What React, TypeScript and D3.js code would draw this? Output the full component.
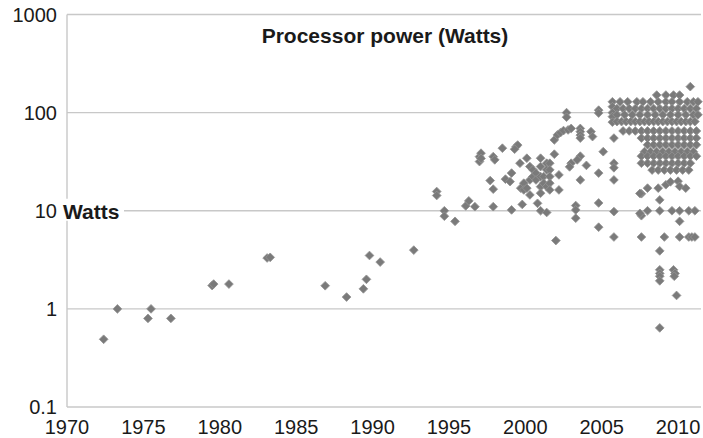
import React from "react";
import * as d3 from "d3";

const W = 703;
const H = 438;

const xTicks = [1970, 1975, 1980, 1985, 1990, 1995, 2000, 2005, 2010];
const yTicks = [0.1, 1, 10, 100, 1000];
const yTickLabels = ["0.1", "1", "10", "100", "1000"];
const title = "Processor power (Watts)";
const axisTitle = "Watts";

// [year, watts]
const early: [number, number][] = [
  [1972.4, 0.49], [1973.3, 1.0], [1975.3, 0.8], [1975.5, 1.0], [1976.8, 0.8],
  [1979.5, 1.73], [1979.6, 1.79], [1980.6, 1.79], [1983.1, 3.3], [1983.3, 3.35],
];

const nineties: [number, number][] = [
  [1986.9, 1.72], [1988.3, 1.32], [1989.4, 1.6], [1989.6, 2.0], [1989.8, 3.5],
  [1990.5, 3.0], [1992.7, 3.97], [1994.2, 15.7], [1994.2, 14.3], [1994.7, 10.0],
  [1994.7, 8.8], [1995.4, 7.8], [1996.1, 11.2], [1996.3, 12.6], [1996.7, 11.0],
  [1997.0, 35.6], [1997.0, 31.7], [1997.1, 38.6], [1997.1, 34.1], [1997.7, 20.3],
  [1997.9, 16.6], [1997.9, 11.0], [1997.9, 35.6], [1998.0, 33], [1998.5, 43.4],
  [1998.7, 21], [1999.0, 19.8], [1999.1, 24.2], [1999.1, 10.2], [1999.4, 45],
  [1999.5, 46.7], [1999.3, 42.4],
];

const twoThousands: [number, number][] = [
  [1999.65, 30.5], [1999.7, 17.0], [1999.8, 11.6], [1999.9, 19.1], [1999.9, 16.3],
  [2000.1, 34.3], [2000.1, 17.0], [2000.3, 28.2], [2000.3, 20.6], [2000.3, 14.5],
  [2000.5, 26.1], [2000.5, 22.3], [2000.7, 24.2], [2000.7, 20.6], [2000.8, 11.9],
  [2001.0, 34.3], [2001.0, 28.2], [2001.0, 22.3], [2001.0, 17.6], [2001.0, 15.1],
  [2001.0, 10.0], [2001.2, 22.3], [2001.2, 19.1], [2001.4, 30.5], [2001.4, 26.1],
  [2001.4, 17.6], [2001.4, 9.6], [2001.6, 30.5], [2001.6, 26.1], [2001.6, 22.3],
  [2001.6, 19.1], [2001.6, 16.3], [2001.9, 37.7], [2002.2, 23.2], [2002.2, 16.3],
  [2002.0, 4.97], [2001.9, 52.7], [2002.1, 59.3], [2002.3, 62.5], [2002.5, 65.6],
  [2002.8, 66.6], [2002.7, 100], [2002.7, 89.8], [2003.0, 69], [2003.0, 30.5],
  [2002.9, 28], [2003.3, 11.3], [2003.3, 10.2], [2003.3, 8.4], [2003.6, 69],
  [2003.6, 64], [2003.6, 59], [2003.6, 55], [2003.6, 36], [2003.4, 33],
  [2004.0, 29], [2003.6, 20.6], [2004.3, 64], [2004.4, 57], [2004.8, 106],
  [2004.8, 99], [2004.8, 24.2], [2004.8, 12], [2004.8, 6.8], [2005.1, 40],
];

const column2005: [number, number][] = [
  [2005.7, 129], [2005.7, 115], [2005.7, 100], [2005.7, 91], [2005.7, 80],
  [2005.8, 55], [2005.8, 30.5], [2005.8, 27.4], [2005.8, 20.6], [2005.8, 9.8],
  [2005.8, 5.4],
];

// dense rows: watts level and the years at that level
const rowLevels = [184, 151, 129, 110, 95, 81, 65, 55, 47, 40, 36, 30.5, 26];
const rowYears: number[][] = [
  [2010.8],
  [2008.6, 2009.2, 2009.7, 2010.1],
  [2006.2, 2006.7, 2007.3, 2007.7, 2008.2, 2008.7, 2009.2, 2009.6, 2010.1, 2010.6, 2011.0, 2011.3],
  [2006.0, 2006.4, 2006.8, 2007.2, 2007.6, 2008.0, 2008.4, 2008.8, 2009.2, 2009.6, 2010.0, 2010.4, 2010.8, 2011.2],
  [2006.0, 2006.5, 2007.0, 2007.5, 2008.0, 2008.5, 2009.0, 2009.5, 2010.0, 2010.5, 2011.0, 2011.3],
  [2006.0, 2006.3, 2006.6, 2006.9, 2007.2, 2007.5, 2007.8, 2008.1, 2008.4, 2008.7, 2009.0, 2009.3, 2009.6, 2009.9, 2010.2, 2010.5, 2010.8, 2011.1],
  [2006.4, 2006.8, 2007.2, 2007.6, 2008.0, 2008.4, 2008.8, 2009.2, 2009.6, 2010.0, 2010.4, 2010.8, 2011.2],
  [2007.6, 2008.0, 2008.4, 2008.8, 2009.2, 2009.6, 2010.0, 2010.4, 2010.8, 2011.2],
  [2008.0, 2008.4, 2008.8, 2009.2, 2009.6, 2010.0, 2010.4, 2010.8, 2011.2],
  [2007.8, 2008.2, 2008.6, 2009.0, 2009.4, 2009.8, 2010.2, 2010.6, 2011.0],
  [2007.6, 2008.0, 2008.4, 2008.8, 2009.2, 2009.6, 2010.0, 2010.4, 2010.8, 2011.2],
  [2007.6, 2008.0, 2008.4, 2008.8, 2009.2, 2009.6, 2010.0, 2010.4, 2010.8],
  [2008.3, 2008.7, 2009.1, 2009.5, 2009.9, 2010.3, 2010.7],
];

const lateScatter: [number, number][] = [
  [2007.6, 14.9], [2008.0, 17], [2008.7, 17], [2009.2, 18.4], [2009.5, 19.7],
  [2010.0, 20], [2010.1, 17.7], [2008.8, 12.9], [2010.5, 17], [2007.5, 15],
  [2007.6, 8.9], [2008.0, 10], [2008.8, 10], [2009.6, 10], [2010.1, 10],
  [2010.7, 10], [2011.1, 10], [2007.5, 9.4], [2007.6, 5.4], [2009.1, 5.4],
  [2010.1, 5.4], [2010.7, 5.4], [2010.9, 5.4], [2011.1, 5.4], [2010.1, 7.8],
  [2008.8, 3.9], [2008.8, 2.5], [2008.8, 2.3], [2008.8, 2.15], [2008.8, 1.93],
  [2008.8, 0.64], [2009.7, 2.5], [2009.8, 2.3], [2009.75, 2.15], [2009.9, 1.37],
];

export default function App() {
  const x = d3.scaleLinear().domain([1970, 2011.5]).range([67, 701]);
  const y = d3.scaleLog().domain([0.1, 1000]).range([407, 14.5]);

  const rows: [number, number][] = [];
  rowLevels.forEach((lv, i) => rowYears[i].forEach((yr) => rows.push([yr, lv])));
  const points = [...early, ...nineties, ...twoThousands, ...column2005, ...rows, ...lateScatter];

  const diamond = d3.symbol(d3.symbolSquare, 38)();
  const font = "'Liberation Sans', Arial, sans-serif";

  return (
    <svg width={W} height={H} style={{ position: "absolute", left: 0, top: 0, background: "#fff" }}>
      <rect x={0} y={0} width={W} height={H} fill="#fff" />
      {yTicks.map((t) => (
        <line key={"g" + t} x1={x(1970)} x2={x(2011.5)} y1={y(t)} y2={y(t)} stroke="#c8c8c8" strokeWidth={1.4} />
      ))}
      <line x1={x(1970)} x2={x(1970)} y1={y(1000)} y2={y(0.1)} stroke="#c8c8c8" strokeWidth={1.4} />
      {points.map((p, i) => (
        <path
          key={i}
          d={diamond as string}
          transform={`translate(${x(p[0])},${y(p[1])}) rotate(45)`}
          fill="#7a7a7a"
          stroke="#949494"
          strokeWidth={0.8}
        />
      ))}
      {yTicks.map((t, i) => (
        <text key={"yl" + t} x={57} y={y(t) + 7} textAnchor="end" fontFamily={font} fontSize={20} fill="#1a1a1a">
          {yTickLabels[i]}
        </text>
      ))}
      {xTicks.map((t) => (
        <text key={"xl" + t} x={x(t)} y={434} textAnchor="middle" fontFamily={font} fontSize={20} fill="#1a1a1a">
          {t}
        </text>
      ))}
      <rect x={61} y={y(10) - 12} width={63} height={22} fill="#fff" />
      <text x={63} y={219} fontFamily={font} fontSize={21} fontWeight="bold" fill="#1a1a1a">
        {axisTitle}
      </text>
      <text x={385} y={43} textAnchor="middle" fontFamily={font} fontSize={21} fontWeight="bold" fill="#1a1a1a">
        {title}
      </text>
    </svg>
  );
}
